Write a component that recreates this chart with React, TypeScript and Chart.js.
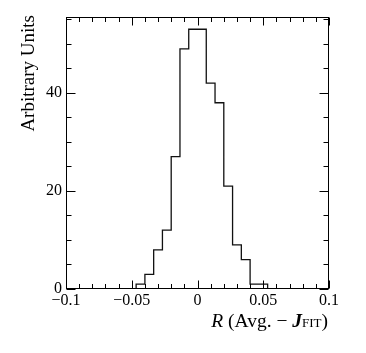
import React, { useEffect, useRef } from 'react';
import { Chart, registerables } from 'chart.js';
Chart.register(...registerables);

// Histogram definition
const X_MIN = -0.1;
const X_MAX = 0.1;
const N_BINS = 30;
const binCounts = [0, 0, 0, 0, 0, 0, 0, 0, 1, 3, 8, 12, 27, 49, 53, 53, 42, 38, 21, 9, 6, 1, 1, 0, 0, 0, 0, 0, 0, 0];
const Y_MAX = 55.5;

const xMajorTicks = [-0.1, -0.05, 0, 0.05, 0.1];
const xTickLabels = ['\u22120.1', '\u22120.05', '0', '0.05', '0.1'];
const yMajorTicks = [0, 20, 40];
const yTickLabels = ['0', '20', '40'];
const X_MINOR_STEP = 0.01;
const Y_MINOR_STEP = 5;

const SERIF = '"Liberation Serif", "DejaVu Serif", serif';

const framePlugin = {
  id: 'rootFrame',
  afterDraw(chart: any) {
    const ctx = chart.ctx as CanvasRenderingContext2D;
    const { left, right, top, bottom } = chart.chartArea;
    const xs = chart.scales.x;
    const ys = chart.scales.y;
    ctx.save();
    ctx.strokeStyle = '#000';
    ctx.lineWidth = 1;
    ctx.strokeRect(Math.round(left) + 0.5, Math.round(top) + 0.5, Math.round(right - left) - 1, Math.round(bottom - top) - 1);

    const L = Math.round(left) + 0.5, R = Math.round(right) - 0.5, T = Math.round(top) + 0.5, B = Math.round(bottom) - 0.5;
    ctx.beginPath();
    // x ticks (bottom & top)
    const nX = Math.round((X_MAX - X_MIN) / X_MINOR_STEP);
    for (let i = 0; i <= nX; i++) {
      const v = X_MIN + i * X_MINOR_STEP;
      const isMajor = xMajorTicks.some((m) => Math.abs(m - v) < 1e-9);
      const len = isMajor ? 8 : 4.5;
      const px = Math.round(xs.getPixelForValue(v)) + 0.5;
      ctx.moveTo(px, B); ctx.lineTo(px, B - len);
      ctx.moveTo(px, T); ctx.lineTo(px, T + len);
    }
    // y ticks (left & right)
    for (let v = 0; v <= Y_MAX; v += Y_MINOR_STEP) {
      const isMajor = yMajorTicks.includes(v);
      const len = isMajor ? 9 : 5;
      const py = Math.round(ys.getPixelForValue(v)) + 0.5;
      ctx.moveTo(L, py); ctx.lineTo(L + len, py);
      ctx.moveTo(R, py); ctx.lineTo(R - len, py);
    }
    ctx.stroke();

    ctx.fillStyle = '#000';
    ctx.font = `16px ${SERIF}`;
    // x tick labels
    ctx.textAlign = 'center';
    ctx.textBaseline = 'middle';
    xMajorTicks.forEach((v, i) => {
      ctx.fillText(xTickLabels[i], xs.getPixelForValue(v), bottom + 12);
    });
    // y tick labels
    ctx.textAlign = 'right';
    yMajorTicks.forEach((v, i) => {
      ctx.fillText(yTickLabels[i], left - 4, ys.getPixelForValue(v) + (v === 0 ? 0 : 0));
    });

    // y title
    ctx.save();
    ctx.translate(34, top - 2);
    ctx.rotate(-Math.PI / 2);
    ctx.font = `19px ${SERIF}`;
    ctx.textAlign = 'right';
    ctx.textBaseline = 'alphabetic';
    ctx.fillText('Arbitrary Units', 0, 0);
    ctx.restore();

    // x title: R (Avg. − J_FIT)
    const parts: [string, string, number][] = [
      ['R', `italic 19.5px ${SERIF}`, 0],
      [' (Avg. \u2212 ', `19.5px ${SERIF}`, 0],
      ['J', `italic bold 19.5px ${SERIF}`, 0],
      ['FIT', `13px ${SERIF}`, 0],
      [')', `19.5px ${SERIF}`, 0],
    ];
    let total = 0;
    parts.forEach(([t, f]) => { ctx.font = f; total += ctx.measureText(t).width; });
    let x = right - 1 - total;
    ctx.textAlign = 'left';
    ctx.textBaseline = 'alphabetic';
    const baseY = bottom + 38;
    parts.forEach(([t, f, dy]) => {
      ctx.font = f;
      ctx.fillText(t, x, baseY + dy);
      x += ctx.measureText(t).width;
    });
    ctx.restore();
  },
};

export default function App() {
  const ref = useRef<HTMLCanvasElement | null>(null);
  useEffect(() => {
    document.body.style.margin = '0';
    const width = (X_MAX - X_MIN) / N_BINS;
    const pts = binCounts.map((c, i) => ({ x: X_MIN + i * width, y: c }));
    pts.push({ x: X_MAX, y: binCounts[N_BINS - 1] });
    const chart = new Chart(ref.current as HTMLCanvasElement, {
      type: 'line',
      data: {
        datasets: [
          {
            data: pts,
            stepped: 'before',
            borderColor: '#111',
            borderWidth: 1.3,
            pointRadius: 0,
            fill: false,
          },
        ],
      },
      options: {
        responsive: false,
        animation: false,
        layout: { padding: { left: 66, right: 37, top: 17, bottom: 64 } },
        plugins: { legend: { display: false }, tooltip: { enabled: false } },
        scales: {
          x: { type: 'linear', min: X_MIN, max: X_MAX, display: false },
          y: { type: 'linear', min: 0, max: Y_MAX, display: false },
        },
      },
      plugins: [framePlugin],
    });
    return () => chart.destroy();
  }, []);
  return <canvas ref={ref} width={366} height={353} style={{ display: 'block', background: '#fff' }} />;
}
